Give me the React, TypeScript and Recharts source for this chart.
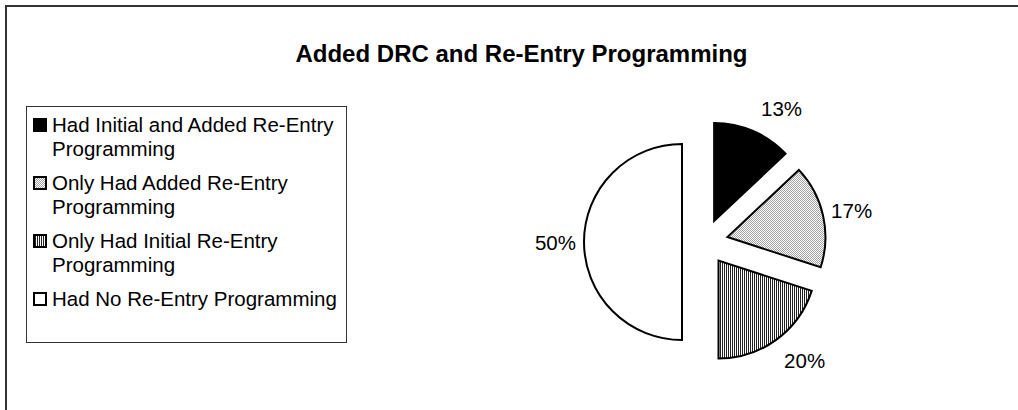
import React from 'react';
import { PieChart, Pie, Cell, Legend, Sector } from 'recharts';

const categories = [
  'Had Initial and Added Re-Entry Programming',
  'Only Had Added Re-Entry Programming',
  'Only Had Initial Re-Entry Programming',
  'Had No Re-Entry Programming',
];
const shares = [13, 17, 20, 50];
const fills = ['#000000', 'url(#dotGray)', 'url(#vStripes)', '#ffffff'];

const data = categories.map((name, i) => ({ name, value: shares[i] }));

const FONT = 'Arial, "Liberation Sans", sans-serif';
const EXPLODE = 23;
const RAD = Math.PI / 180;

// every slice pulled out along its own mid angle, like Excel's exploded pie
function ExplodedSector(props: any) {
  const dx = EXPLODE * Math.cos(-props.midAngle * RAD);
  const dy = EXPLODE * Math.sin(-props.midAngle * RAD);
  return <Sector {...props} cx={props.cx + dx} cy={props.cy + dy} />;
}

function renderLabel(props: any) {
  const { cx, cy, midAngle, outerRadius, value } = props;
  const cos = Math.cos(-midAngle * RAD);
  const sin = Math.sin(-midAngle * RAD);
  const r = outerRadius + EXPLODE;
  const right = cos >= 0;
  const x = cx + r * cos + (right ? 8 : -8);
  const y = cy + r * sin + sin * 25;
  return (
    <text
      x={x}
      y={y}
      textAnchor={right ? 'start' : 'end'}
      dominantBaseline="central"
      fill="#000"
      fontSize={20.5}
      fontFamily={FONT}
    >
      {`${value}%`}
    </text>
  );
}

// legend keeps the series order (Recharts would sort it by name)
function LegendBox() {
  return (
    <div
      style={{
        boxSizing: 'border-box',
        width: 321,
        height: 237,
        border: '1.5px solid #333',
        background: '#fff',
        padding: '6px 0 0 6px',
        fontFamily: FONT,
        fontSize: 20.5,
        lineHeight: '24px',
        color: '#000',
        textAlign: 'left',
      }}
    >
      {categories.map((name, i) => (
        <div key={name} style={{ display: 'flex', alignItems: 'flex-start', marginBottom: 10 }}>
          <svg width={14} height={14} style={{ marginTop: 5, marginRight: 5, flex: 'none' }}>
            <rect x={1} y={1} width={12} height={12} fill={fills[i]} stroke="#000" strokeWidth={2} />
          </svg>
          <span style={{ width: 294 }}>{name}</span>
        </div>
      ))}
    </div>
  );
}

export default function App() {
  return (
    <div
      style={{
        position: 'absolute',
        left: 0,
        top: 0,
        width: 1018,
        height: 410,
        overflow: 'hidden',
        background: '#fff',
      }}
    >
      <div
        style={{
          position: 'absolute',
          left: 5,
          top: 5,
          width: 1060,
          height: 460,
          border: '2px solid #333',
        }}
      />
      <div
        style={{
          position: 'absolute',
          left: 0,
          top: 40,
          width: 1043,
          textAlign: 'center',
          fontFamily: FONT,
          fontWeight: 'bold',
          fontSize: 24,
          lineHeight: '28px',
          color: '#000',
        }}
      >
        Added DRC and Re-Entry Programming
      </div>
      <div style={{ position: 'absolute', left: 0, top: 0 }}>
        <PieChart width={1018} height={410} margin={{ top: 0, right: 0, bottom: 0, left: 0 }}>
          <defs>
            <pattern id="dotGray" width={2} height={2} patternUnits="userSpaceOnUse">
              <rect width={2} height={2} fill="#ffffff" />
              <rect x={0} y={0} width={1} height={1} fill="#a0a0a0" />
              <rect x={1} y={1} width={1} height={1} fill="#a0a0a0" />
            </pattern>
            <pattern id="vStripes" width={2} height={2} patternUnits="userSpaceOnUse">
              <rect width={2} height={2} fill="#ffffff" />
              <rect x={0} y={0} width={1} height={2} fill="#222222" />
            </pattern>
          </defs>
          <Pie
            data={data}
            dataKey="value"
            nameKey="name"
            cx={705}
            cy={242}
            outerRadius={98}
            startAngle={90}
            endAngle={-270}
            stroke="#000"
            strokeWidth={2}
            shape={ExplodedSector}
            activeShape={ExplodedSector}
            label={renderLabel}
            labelLine={false}
            isAnimationActive={false}
          >
            {data.map((d, i) => (
              <Cell key={d.name} fill={fills[i]} />
            ))}
          </Pie>
          <Legend
            layout="horizontal"
            verticalAlign="bottom"
            align="center"
            content={LegendBox}
            wrapperStyle={{ left: 26, top: 106, bottom: 'auto', width: 321, height: 237 }}
          />
        </PieChart>
      </div>
    </div>
  );
}
